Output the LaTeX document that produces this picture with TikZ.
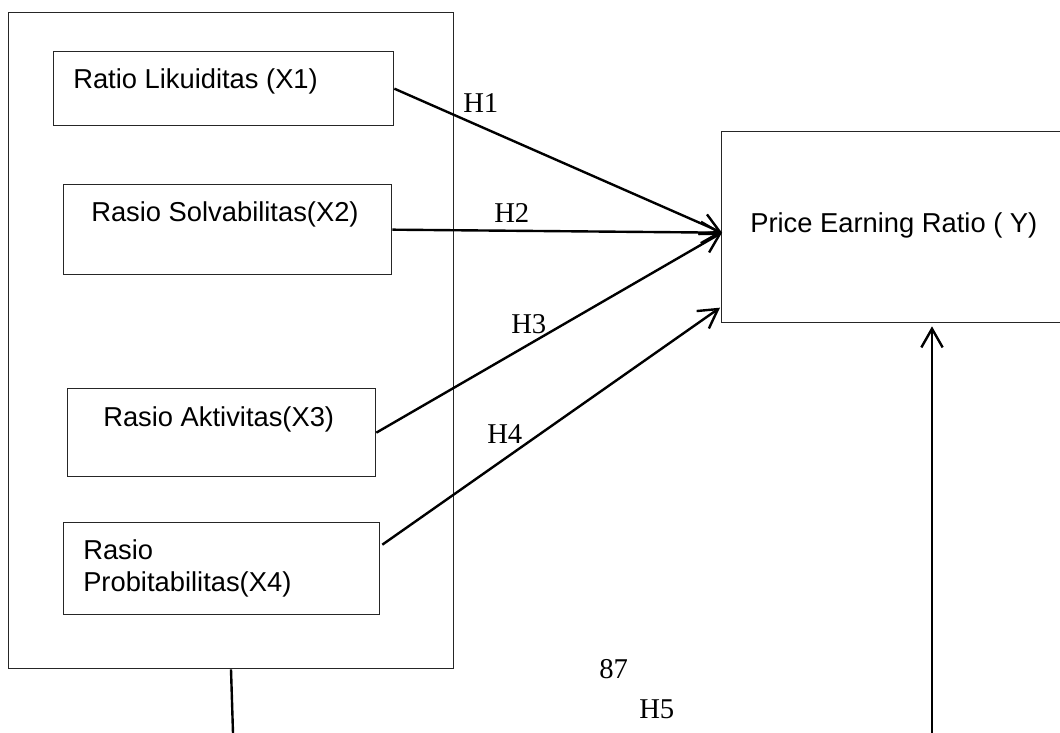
\documentclass[tikz,border=0pt]{standalone}
\usepackage{fontspec}
\setmainfont{Liberation Serif}
\setsansfont{Liberation Sans}
\usetikzlibrary{arrows.meta,calc}

\begin{document}
\begin{tikzpicture}[x=0.75pt, y=-0.75pt,
  box/.style={draw=black!85, line width=1pt, rectangle, inner sep=0pt, anchor=north west},
  boxtext/.style={font=\sffamily\fontsize{20.5}{24}\selectfont, inner sep=0pt, anchor=base west},
  hlabel/.style={font=\rmfamily\fontsize{21.5}{24}\selectfont, inner sep=0pt, anchor=base west},
  arr/.style={line width=1.8pt, -{Straight Barb[length=14pt, width=16pt]}},
  plain/.style={line width=1.8pt}]
\useasboundingbox (0,0) rectangle (1060,732);
\fill[white] (0,0) rectangle (1060,732);

% independent variables grouped in one frame
\node[box, minimum width=333.75pt, minimum height=492pt] (outer) at (8,12) {};
\node[box, minimum width=255pt, minimum height=55.5pt] (x1) at (53,51) {};
\node[box, minimum width=246pt, minimum height=67.5pt] (x2) at (63,184) {};
\node[box, minimum width=231pt, minimum height=66pt] (x3) at (67,388) {};
\node[box, minimum width=237pt, minimum height=69pt] (x4) at (63,522) {};

\node[boxtext] (x1t) at (73,88) {Ratio Likuiditas (X1)};
\node[boxtext] (x2t) at (91,221) {Rasio Solvabilitas(X2)};
\node[boxtext] (x3t) at (103,426) {Rasio Aktivitas(X3)};
\node[boxtext] (x4ta) at (83,559) {Rasio};
\node[boxtext] (x4tb) at (83,591) {Probitabilitas(X4)};

% dependent variable
\node[box, minimum width=257.25pt, minimum height=143.25pt] (y) at (721,131) {};
\node[boxtext] (yt) at (750,232) {Price Earning Ratio ( Y)};

% arrow endpoints on the dependent variable
\coordinate (yin) at ($(y.west)+(1,5.5)$);
\coordinate (yin4) at ($(y.west)+(-1,80.5)$);
\coordinate (yin5) at ($(y.south west)+(211,3)$);
\coordinate (h5s) at (932,733);
\coordinate (os) at (233,733);

\draw[arr] (x1.east) -- (yin);
\draw[arr] (x2.east) -- (yin);
\draw[arr] (x3.east) -- (yin);
\draw[arr] ($(x4.east)+(2,-24)$) -- (yin4);
\draw[arr] (h5s) -- (yin5);
\draw[plain] ($(outer.south west)+(223,0)$) -- (os);

\node[hlabel] (h1) at (463,112) {H1};
\node[hlabel] (h2) at (494,222) {H2};
\node[hlabel] (h3) at (511,333) {H3};
\node[hlabel] (h4) at (487,443) {H4};
\node[hlabel] (n87) at (599,678) {87};
\node[hlabel] (h5) at (639,718) {H5};
\end{tikzpicture}
\end{document}
